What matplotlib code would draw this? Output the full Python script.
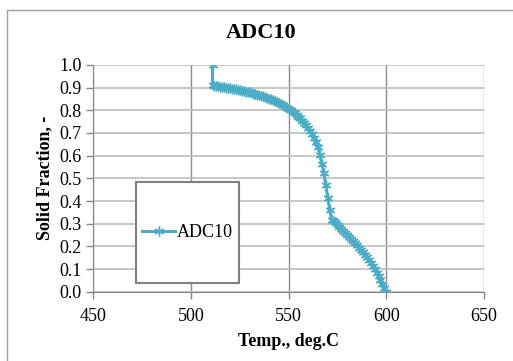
import matplotlib.pyplot as plt
from matplotlib.patches import Rectangle

plt.rcParams['font.family'] = ['Liberation Serif', 'DejaVu Serif']

# solid fraction curve (1 deg steps)
temp = [511, 511, 512, 513, 514, 515, 516, 517, 518, 519, 520,
        521, 522, 523, 524, 525, 526, 527, 528, 529, 530,
        531, 532, 533, 534, 535, 536, 537, 538, 539, 540,
        541, 542, 543, 544, 545, 546, 547, 548, 549, 550,
        551, 552, 553, 554, 555, 556, 557, 558, 559, 560,
        561, 562, 563, 564, 565, 566, 567, 568, 569, 570,
        571, 572, 573, 574, 575, 576, 577, 578, 579, 580,
        581, 582, 583, 584, 585, 586, 587, 588, 589, 590,
        591, 592, 593, 594, 595, 596, 597, 598, 599, 600]
fs = [1.000, 0.910, 0.909, 0.907, 0.906, 0.905, 0.903, 0.902, 0.900, 0.899, 0.897,
      0.896, 0.894, 0.892, 0.891, 0.889, 0.887, 0.885, 0.883, 0.881, 0.879,
      0.877, 0.874, 0.872, 0.869, 0.867, 0.864, 0.861, 0.858, 0.855, 0.851,
      0.848, 0.844, 0.840, 0.836, 0.832, 0.827, 0.822, 0.817, 0.812, 0.806,
      0.800, 0.794, 0.787, 0.780, 0.772, 0.764, 0.755, 0.745, 0.734, 0.722,
      0.709, 0.694, 0.678, 0.660, 0.640, 0.605, 0.565, 0.525, 0.470, 0.415,
      0.360, 0.318, 0.310, 0.302, 0.294, 0.285, 0.277, 0.268, 0.259, 0.250,
      0.241, 0.232, 0.223, 0.213, 0.204, 0.194, 0.184, 0.173, 0.162, 0.151,
      0.139, 0.126, 0.112, 0.098, 0.083, 0.067, 0.051, 0.035, 0.018, 0.000]

xticks = [450, 500, 550, 600, 650]
yticks = [0.0, 0.1, 0.2, 0.3, 0.4, 0.5, 0.6, 0.7, 0.8, 0.9, 1.0]

fig = plt.figure(figsize=(5.13, 3.61), dpi=100)
ax = fig.add_axes([0.182, 0.192, 0.7615, 0.628])

col = '#4BACC6'
ax.plot(temp, fs, color=col, lw=2.2, marker=(6, 2, 0), ms=7, mew=1,
        label='ADC10', zorder=3)

ax.set_xlim(450, 650)
ax.set_ylim(0, 1)
ax.set_xticks(xticks)
ax.set_yticks(yticks)
ax.set_yticklabels(['%.1f' % v for v in yticks])
ax.tick_params(labelsize=13, length=5, color='#868686', width=1)
for lbl in ax.get_xticklabels():
    lbl.set_y(-0.02)

ax.yaxis.grid(True, color='#BEBEBE', lw=1.2)
ax.xaxis.grid(True, color='#8C8C8C', lw=1)
ax.set_axisbelow(True)
for s in ['top', 'right']:
    ax.spines[s].set_visible(False)
for s in ['left', 'bottom']:
    ax.spines[s].set_color('#868686')

# title centred on the chart area, not the plot area
fig.text(261 / 513, 1 - 33 / 361, 'ADC10', fontsize=16, fontweight='bold',
         ha='center', va='center')
ax.set_xlabel('Temp., deg.C', fontsize=13, fontweight='bold', labelpad=6)
ax.set_ylabel('Solid Fraction, -', fontsize=13, fontweight='bold', labelpad=4)

# outer chart border
fig.patches.append(Rectangle((7 / 513, -0.2), 1.2, 1.2 - 10 / 361,
                             transform=fig.transFigure, fill=False,
                             edgecolor='#A0A0A0', lw=1))

# legend box
lx0, ly0 = 136 / 513, 1 - 283 / 361
lw_, lh_ = 103 / 513, 101 / 361
fig.patches.append(Rectangle((lx0, ly0), lw_, lh_, transform=fig.transFigure,
                             facecolor='white', edgecolor='#808080', lw=1.5,
                             zorder=5))
leg = fig.legend(loc='center', bbox_to_anchor=(lx0 + lw_ / 2, ly0 + lh_ / 2),
                 frameon=False, fontsize=13, handlelength=1.8,
                 handletextpad=0.1, borderaxespad=0)
leg.set_zorder(6)

fig.savefig('out.png', dpi=100)
